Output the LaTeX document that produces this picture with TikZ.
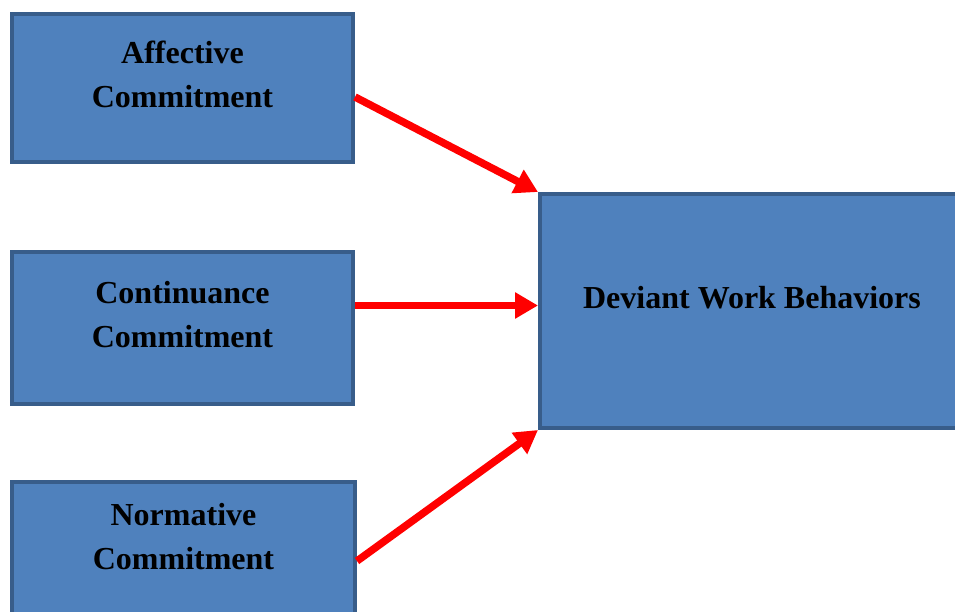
\documentclass[tikz,border=0pt]{standalone}
\usepackage{fontspec}
\setmainfont{Liberation Serif}
\usetikzlibrary{arrows.meta}

\definecolor{boxfill}{HTML}{4F81BD}
\definecolor{boxline}{HTML}{385D8A}

\begin{document}
\begin{tikzpicture}[
            x=1pt, y=-1pt,
            box/.style={draw=boxline, fill=boxfill, line width=4pt, inner sep=0pt, minimum width=341pt, minimum height=#1},
            lbl/.style={font=\bfseries\fontsize{32}{44}\selectfont, align=center},
            arr/.style={draw=red, line width=7.5pt, -{Triangle[length=23pt,width=25pt]}}
        ]
            \useasboundingbox (0,0) rectangle (955,612);
            \clip (0,0) rectangle (955,612);

            % the three commitment boxes and the outcome box
            \node[box=148pt] (ac) at (182.5,88) {};
            \node[box=152pt] (cc) at (182.5,328) {};
            \node[box=152pt, minimum width=343pt] (nc) at (183.5,558) {};
            \node[box=234pt, minimum width=424pt] (dwb) at (752,311) {};

            \node[lbl] (actxt) at ([yshift=13.5pt]ac.center) {Affective\\Commitment};
            \node[lbl] (cctxt) at ([yshift=13pt]cc.center) {Continuance\\Commitment};
            \node[lbl] (nctxt) at ([yshift=21pt]nc.center) {Normative\\Commitment};
            \node[lbl, anchor=base] (dwbtxt) at ([yshift=3pt]dwb.center) {Deviant Work Behaviors};

            \coordinate (a1) at ([yshift=-9pt]ac.east);
            \coordinate (a2) at ([yshift=22.5pt]cc.east);
            \coordinate (a3) at ([yshift=-3pt]nc.east);

            \draw[arr] (a1) -- (dwb.north west);
            \draw[arr] (a2) -- (a2 -| dwb.west);
            \draw[arr] (a3) -- (dwb.south west);
        \end{tikzpicture}
\end{document}
